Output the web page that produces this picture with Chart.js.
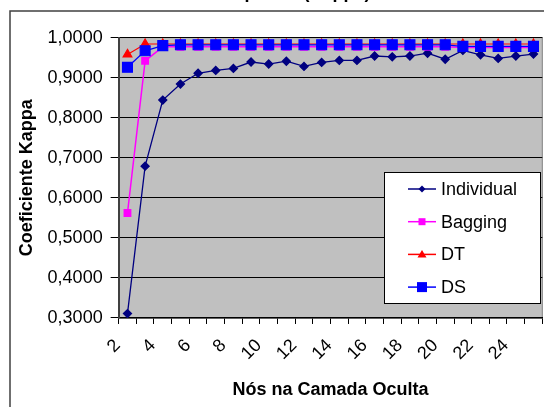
<!DOCTYPE html>
<html>
<head>
<meta charset="utf-8">
<script src="https://cdn.jsdelivr.net/npm/chart.js@4.4.0/dist/chart.umd.min.js"></script>
<style>
  body { margin: 0; background: #fff; }
  #clip { position: relative; width: 544px; height: 407px; overflow: hidden; }
  #chart-container { position: absolute; left: 0; top: -28px; width: 560px; height: 435px; }
</style>
</head>
<body>
<div id="clip"><div id="chart-container"><canvas id="myChart"></canvas></div></div>
<script>
// nodes in the hidden layer
var categories = ['2', '3', '4', '5', '6', '7', '8', '9', '10', '11', '12', '13',
                  '14', '15', '16', '17', '18', '19', '20', '21', '22', '23', '24', '25']

var seriesNames = ['Individual', 'Bagging', 'DT', 'DS']

var individualValues = [0.311, 0.679, 0.844, 0.884, 0.911, 0.918, 0.923, 0.939, 0.934, 0.941, 0.928, 0.938,
                        0.943, 0.943, 0.954, 0.952, 0.954, 0.961, 0.946, 0.968, 0.957, 0.948, 0.954, 0.959]
var baggingValues = [0.562, 0.942, 0.977, 0.977, 0.977, 0.977, 0.977, 0.977, 0.977, 0.977, 0.977, 0.977,
                     0.977, 0.977, 0.977, 0.977, 0.977, 0.977, 0.977, 0.975, 0.975, 0.975, 0.975, 0.975]
var dtValues = [0.958, 0.984, 0.984, 0.984, 0.984, 0.984, 0.984, 0.984, 0.984, 0.984, 0.984, 0.984,
                0.984, 0.984, 0.984, 0.984, 0.984, 0.984, 0.984, 0.984, 0.984, 0.984, 0.984, 0.984]
var dsValues = [0.926, 0.967, 0.980, 0.982, 0.982, 0.982, 0.982, 0.982, 0.982, 0.982, 0.982, 0.982,
                0.982, 0.982, 0.982, 0.982, 0.982, 0.982, 0.982, 0.978, 0.978, 0.978, 0.978, 0.978]

var yMin = 0.3
var yMax = 1.0
var yStep = 0.1

var FONT = 'Arial, "Liberation Sans", sans-serif'

// plot area fill + outer frame
var backgroundPlugin = {
    id: 'plotBackground',
    beforeDraw: function (chart) {
        var ctx = chart.ctx
        var a = chart.chartArea
        ctx.save()
        ctx.strokeStyle = '#404040'
        ctx.lineWidth = 1.5
        ctx.strokeRect(10, 39, 700, 600)
        ctx.fillStyle = '#c0c0c0'
        ctx.fillRect(a.left, a.top, a.right - a.left, a.bottom - a.top)
        ctx.strokeStyle = '#808080'
        ctx.lineWidth = 1
        ctx.strokeRect(a.left, a.top, a.right - a.left, a.bottom - a.top)
        ctx.restore()
    }
}

function drawMarker(ctx, style, x, y, size) {
    ctx.beginPath()
    if (style == 'rectRot') {
        ctx.moveTo(x, y - size)
        ctx.lineTo(x + size, y)
        ctx.lineTo(x, y + size)
        ctx.lineTo(x - size, y)
        ctx.closePath()
    }
    else if (style == 'triangle') {
        ctx.moveTo(x, y - size)
        ctx.lineTo(x + size, y + size * 0.7)
        ctx.lineTo(x - size, y + size * 0.7)
        ctx.closePath()
    }
    else {
        ctx.rect(x - size, y - size, size * 2, size * 2)
    }
    ctx.fill()
}

// boxed legend inside the plot, like the original
var boxLegendPlugin = {
    id: 'boxLegend',
    afterDraw: function (chart) {
        var ctx = chart.ctx
        var left = 384, top = 200, width = 156, height = 131
        ctx.save()
        ctx.fillStyle = '#ffffff'
        ctx.fillRect(left, top, width, height)
        ctx.strokeStyle = '#000000'
        ctx.lineWidth = 1
        ctx.strokeRect(left + 0.5, top + 0.5, width, height)

        var sizes = [3.5, 3.5, 4.5, 5]
        chart.data.datasets.forEach(function (ds, i) {
            var y = top + 17 + i * 32.7
            ctx.strokeStyle = ds.borderColor
            ctx.lineWidth = 1.5
            ctx.beginPath()
            ctx.moveTo(left + 24, y)
            ctx.lineTo(left + 52, y)
            ctx.stroke()
            ctx.fillStyle = ds.backgroundColor
            drawMarker(ctx, ds.pointStyle, left + 38, y, sizes[i])
            ctx.fillStyle = '#000000'
            ctx.font = '18px ' + FONT
            ctx.textBaseline = 'middle'
            ctx.fillText(ds.label, left + 57, y + 1)
        })
        ctx.restore()
    }
}

const ctx = document.getElementById('myChart')
const myChart = new Chart(ctx, {
    type: 'line',
    data: {
        labels: categories,
        datasets: [
            {
                label: seriesNames[0],
                data: individualValues,
                borderColor: '#000080',
                backgroundColor: '#000080',
                borderWidth: 1.3,
                pointStyle: 'rectRot',
                pointRadius: 4,
                order: 4
            },
            {
                label: seriesNames[1],
                data: baggingValues,
                borderColor: '#ff00ff',
                backgroundColor: '#ff00ff',
                borderWidth: 1.5,
                pointStyle: 'rect',
                pointRadius: 4.5,
                order: 3
            },
            {
                label: seriesNames[2],
                data: dtValues,
                borderColor: '#ff0000',
                backgroundColor: '#ff0000',
                borderWidth: 1.2,
                pointStyle: 'triangle',
                pointRadius: 5,
                order: 2
            },
            {
                label: seriesNames[3],
                data: dsValues,
                borderColor: '#0000ff',
                backgroundColor: '#0000ff',
                borderWidth: 1.2,
                pointStyle: 'rect',
                pointRadius: 7,
                order: 1
            }
        ]
    },
    options: {
        responsive: true,
        maintainAspectRatio: false,
        animation: false,
        layout: {
            padding: { left: 8, right: 12, top: 0, bottom: 2 }
        },
        elements: {
            line: { tension: 0 },
            point: { borderWidth: 0, hoverRadius: 5 }
        },
        scales: {
            x: {
                offset: true,
                border: { display: true, color: '#000000', width: 1.5 },
                grid: {
                    display: true,
                    offset: true,
                    drawOnChartArea: false,
                    tickLength: 6,
                    color: '#000000'
                },
                ticks: {
                    autoSkip: false,
                    maxRotation: 45,
                    minRotation: 45,
                    padding: 11,
                    labelOffset: -10,
                    color: '#000000',
                    font: { family: FONT, size: 18 },
                    callback: function (value, index) {
                        return index % 2 == 0 ? categories[index] : ''
                    }
                },
                title: {
                    display: true,
                    text: 'Nós na Camada Oculta',
                    color: '#000000',
                    font: { family: FONT, size: 18, weight: 'bold' },
                    padding: { top: 4, bottom: 4 }
                }
            },
            y: {
                min: yMin,
                max: yMax,
                border: { display: true, color: '#404040', width: 2 },
                grid: {
                    color: '#000000',
                    lineWidth: 1,
                    tickLength: 8
                },
                ticks: {
                    stepSize: yStep,
                    padding: 8,
                    color: '#000000',
                    font: { family: FONT, size: 18 },
                    callback: function (value) {
                        return value.toFixed(4).replace('.', ',')
                    }
                },
                title: {
                    display: true,
                    text: 'Coeficiente Kappa',
                    color: '#000000',
                    font: { family: FONT, size: 18, weight: 'bold' },
                    padding: { top: 8, bottom: 2 }
                }
            }
        },
        plugins: {
            title: {
                display: true,
                text: 'Desempenho (Kappa)',
                color: '#000000',
                font: { family: FONT, size: 18, weight: 'bold' },
                padding: { top: 10, bottom: 34 }
            },
            legend: { display: false },
            tooltip: { enabled: false }
        }
    },
    plugins: [backgroundPlugin, boxLegendPlugin]
});
</script>
</body>
</html>
